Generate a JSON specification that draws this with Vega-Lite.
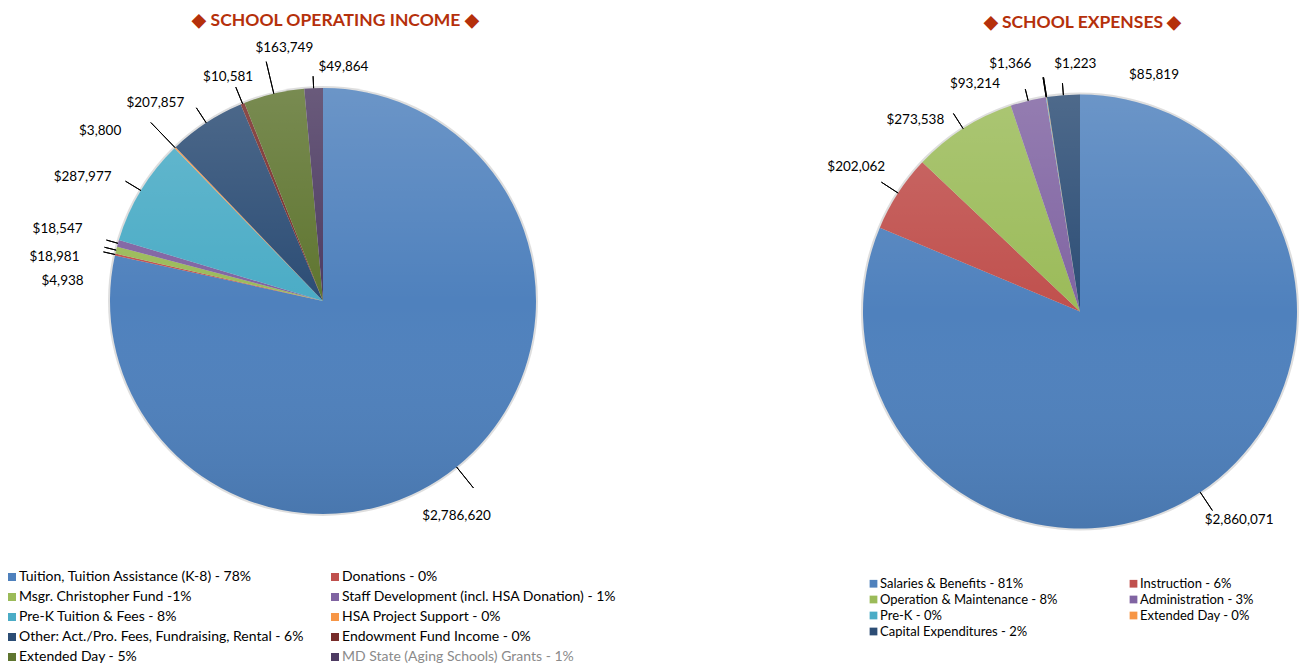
{
  "$schema": "https://vega.github.io/schema/vega-lite/v6.json",
  "padding": {"top": 11, "left": 0, "right": 0, "bottom": 0},
  "background": "white",
  "bounds": "flush",
  "spacing": 212,
  "config": {"view": {"stroke": null}, "font": "Lato"},
  "datasets": {
    "income": [
      {"ord": 1, "key": "tuition", "cat": "Tuition, Tuition Assistance (K-8) - 78%", "value": 2786620},
      {"ord": 2, "key": "donations", "cat": "Donations - 0%", "value": 4938},
      {"ord": 3, "key": "msgr", "cat": "Msgr. Christopher Fund -1%", "value": 18981},
      {"ord": 4, "key": "staff", "cat": "Staff Development (incl. HSA Donation) - 1%", "value": 18547},
      {"ord": 5, "key": "prek", "cat": "Pre-K Tuition & Fees - 8%", "value": 287977},
      {"ord": 6, "key": "hsa", "cat": "HSA Project Support - 0%", "value": 3800},
      {"ord": 7, "key": "other", "cat": "Other: Act./Pro. Fees, Fundraising, Rental - 6%", "value": 207857},
      {"ord": 8, "key": "endow", "cat": "Endowment Fund Income - 0%", "value": 10581},
      {"ord": 9, "key": "extday", "cat": "Extended Day - 5%", "value": 163749},
      {"ord": 10, "key": "md", "cat": "MD State (Aging Schools) Grants - 1%", "value": 49864}
    ],
    "expenses": [
      {"ord": 1, "key": "salaries", "cat": "Salaries & Benefits - 81%", "value": 2860071},
      {"ord": 2, "key": "instruction", "cat": "Instruction - 6%", "value": 202062},
      {"ord": 3, "key": "operation", "cat": "Operation & Maintenance - 8%", "value": 273538},
      {"ord": 4, "key": "admin", "cat": "Administration - 3%", "value": 93214},
      {"ord": 5, "key": "prek", "cat": "Pre-K - 0%", "value": 1366},
      {"ord": 6, "key": "extday", "cat": "Extended Day - 0%", "value": 1223},
      {"ord": 7, "key": "capital", "cat": "Capital Expenditures - 2%", "value": 85819}
    ]
  },
  "hconcat": [
    {
      "width": 646,
      "height": 532,
      "data": {"name": "income"},
      "title": {"text": "◆  SCHOOL OPERATING INCOME  ◆", "font": "Lato", "fontSize": 17.5, "fontWeight": "bold", "color": "#B5300B", "anchor": "middle", "frame": "group", "dx": 12.5, "offset": 6},
      "resolve": {"scale": {"theta": "independent"}},
      "layer": [
        {
          "transform": [{"aggregate": [{"op": "sum", "field": "value", "as": "value"}]}],
          "mark": {"type": "arc", "radius": 215, "fill": "#000000", "fillOpacity": 0.13},
          "encoding": {"theta": {"field": "value", "type": "quantitative"}}
        },
        {
          "mark": {"type": "arc", "radius": 213},
          "encoding": {
            "theta": {"field": "value", "type": "quantitative", "stack": true},
            "order": {"field": "ord", "type": "quantitative"},
            "color": {
              "field": "cat", "type": "nominal",
              "scale": {
                "domain": ["Tuition, Tuition Assistance (K-8) - 78%", "Donations - 0%", "Msgr. Christopher Fund -1%", "Staff Development (incl. HSA Donation) - 1%", "Pre-K Tuition & Fees - 8%", "HSA Project Support - 0%", "Other: Act./Pro. Fees, Fundraising, Rental - 6%", "Endowment Fund Income - 0%", "Extended Day - 5%", "MD State (Aging Schools) Grants - 1%"],
                "range": ["#4F81BD", "#C0504D", "#9BBB59", "#8064A2", "#4BACC6", "#F79646", "#2C4D75", "#772C2A", "#5F7530", "#4D3B62"]
              },
              "legend": {
                "title": null, "orient": "none", "direction": "horizontal", "legendX": 5, "legendY": 535, "columns": 2, "columnPadding": 24, "rowPadding": 6,
                "symbolType": "square", "symbolSize": 64, "symbolStrokeWidth": 0, "labelFont": "Lato", "labelFontSize": 14, "labelLimit": 400, "labelColor": "#000000", "labelOffset": 0,
                "encode": {"labels": {"update": {"fill": {"signal": "indexof(datum.label, 'MD State') === 0 ? '#8a8a8a' : '#000000'"}}}}
              }
            }
          }
        },
        {
          "transform": [{"aggregate": [{"op": "sum", "field": "value", "as": "value"}]}],
          "mark": {"type": "arc", "radius": 213, "fill": {"gradient": "linear", "x1": 0, "y1": 0, "x2": 0, "y2": 1, "stops": [{"offset": 0, "color": "rgba(255,255,255,0.16)"}, {"offset": 0.5, "color": "rgba(255,255,255,0)"}, {"offset": 1, "color": "rgba(0,0,0,0.08)"}]}},
          "encoding": {"theta": {"field": "value", "type": "quantitative"}}
        },
        {
          "transform": [
            {"fold": ["value", "value", "value"], "as": ["fk", "fv"]},
            {"window": [{"op": "row_number", "as": "copy"}], "groupby": ["cat"]},
            {"window": [{"op": "row_number", "as": "seq"}], "sort": [{"field": "ord", "order": "ascending"}, {"field": "copy", "order": "ascending"}]}
          ],
          "mark": {"type": "arc", "radius": 240, "radius2": 213, "padAngle": 3, "fill": "#000000", "fillOpacity": 0, "stroke": "#000000", "strokeWidth": 1},
          "encoding": {
            "theta": {"field": "fv", "type": "quantitative", "stack": true},
            "order": {"field": "seq", "type": "quantitative"},
            "detail": {"field": "seq", "type": "quantitative"},
            "strokeOpacity": {"condition": {"test": "datum.key === 'tuition' && datum.copy === 2", "value": 1}, "value": 0}
          }
        },
        {
          "encoding": {
            "theta": {"field": "value", "type": "quantitative", "stack": true},
            "order": {"field": "ord", "type": "quantitative"},
            "detail": {"field": "cat", "type": "nominal"}
          },
          "layer": [
            {"mark": {"type": "arc", "radius": 225, "radius2": 213, "padAngle": 3, "fill": "#000000", "fillOpacity": 0, "stroke": "#000000", "strokeWidth": 1},
             "encoding": {"strokeOpacity": {"condition": {"test": "indexof(['donations','msgr','staff','md'], datum.key) >= 0", "value": 1}, "value": 0}}},
            {"mark": {"type": "arc", "radius": 231, "radius2": 213, "padAngle": 3, "fill": "#000000", "fillOpacity": 0, "stroke": "#000000", "strokeWidth": 1},
             "encoding": {"strokeOpacity": {"condition": {"test": "indexof(['prek','other','endow'], datum.key) >= 0", "value": 1}, "value": 0}}},
            {"mark": {"type": "arc", "radius": 248, "radius2": 213, "padAngle": 3, "fill": "#000000", "fillOpacity": 0, "stroke": "#000000", "strokeWidth": 1},
             "encoding": {"strokeOpacity": {"condition": {"test": "datum.key === 'hsa'", "value": 1}, "value": 0}}},
            {"mark": {"type": "arc", "radius": 246, "radius2": 213, "padAngle": 3, "fill": "#000000", "fillOpacity": 0, "stroke": "#000000", "strokeWidth": 1},
             "encoding": {"strokeOpacity": {"condition": {"test": "datum.key === 'extday'", "value": 1}, "value": 0}}},
            {"mark": {"type": "text", "radius": 213, "dx": 0, "dy": 49, "font": "Lato", "fontSize": 13.5, "color": "#000000", "align": "center", "baseline": "middle"},
             "encoding": {"text": {"condition": {"test": "datum.key === 'tuition'", "field": "value", "type": "quantitative", "format": "$,.0f"}, "value": ""}}},
            {"mark": {"type": "text", "radius": 213, "dx": -52.6, "dy": 26.5, "font": "Lato", "fontSize": 13.5, "color": "#000000", "align": "center", "baseline": "middle"},
             "encoding": {"text": {"condition": {"test": "datum.key === 'donations'", "field": "value", "type": "quantitative", "format": "$,.0f"}, "value": ""}}},
            {"mark": {"type": "text", "radius": 213, "dx": -61.7, "dy": 6.8, "font": "Lato", "fontSize": 13.5, "color": "#000000", "align": "center", "baseline": "middle"},
             "encoding": {"text": {"condition": {"test": "datum.key === 'msgr'", "field": "value", "type": "quantitative", "format": "$,.0f"}, "value": ""}}},
            {"mark": {"type": "text", "radius": 213, "dx": -60.4, "dy": -14.4, "font": "Lato", "fontSize": 13.5, "color": "#000000", "align": "center", "baseline": "middle"},
             "encoding": {"text": {"condition": {"test": "datum.key === 'staff'", "field": "value", "type": "quantitative", "format": "$,.0f"}, "value": ""}}},
            {"mark": {"type": "text", "radius": 213, "dx": -58.3, "dy": -13.7, "font": "Lato", "fontSize": 13.5, "color": "#000000", "align": "center", "baseline": "middle"},
             "encoding": {"text": {"condition": {"test": "datum.key === 'prek'", "field": "value", "type": "quantitative", "format": "$,.0f"}, "value": ""}}},
            {"mark": {"type": "text", "radius": 213, "dx": -75, "dy": -16.8, "font": "Lato", "fontSize": 13.5, "color": "#000000", "align": "center", "baseline": "middle"},
             "encoding": {"text": {"condition": {"test": "datum.key === 'hsa'", "field": "value", "type": "quantitative", "format": "$,.0f"}, "value": ""}}},
            {"mark": {"type": "text", "radius": 213, "dx": -50.9, "dy": -19.8, "font": "Lato", "fontSize": 13.5, "color": "#000000", "align": "center", "baseline": "middle"},
             "encoding": {"text": {"condition": {"test": "datum.key === 'other'", "field": "value", "type": "quantitative", "format": "$,.0f"}, "value": ""}}},
            {"mark": {"type": "text", "radius": 213, "dx": -14.5, "dy": -26.8, "font": "Lato", "fontSize": 13.5, "color": "#000000", "align": "center", "baseline": "middle"},
             "encoding": {"text": {"condition": {"test": "datum.key === 'endow'", "field": "value", "type": "quantitative", "format": "$,.0f"}, "value": ""}}},
            {"mark": {"type": "text", "radius": 213, "dx": 10.5, "dy": -45.7, "font": "Lato", "fontSize": 13.5, "color": "#000000", "align": "center", "baseline": "middle"},
             "encoding": {"text": {"condition": {"test": "datum.key === 'extday'", "field": "value", "type": "quantitative", "format": "$,.0f"}, "value": ""}}},
            {"mark": {"type": "text", "radius": 213, "dx": 29.8, "dy": -21.2, "font": "Lato", "fontSize": 13.5, "color": "#000000", "align": "center", "baseline": "middle"},
             "encoding": {"text": {"condition": {"test": "datum.key === 'md'", "field": "value", "type": "quantitative", "format": "$,.0f"}, "value": ""}}}
          ]
        }
      ]
    },
    {
      "width": 444,
      "height": 553,
      "data": {"name": "expenses"},
      "title": {"text": "◆  SCHOOL EXPENSES  ◆", "font": "Lato", "fontSize": 17.5, "fontWeight": "bold", "color": "#B5300B", "anchor": "middle", "frame": "group", "dx": 2.5, "dy": 2, "offset": 6},
      "resolve": {"scale": {"theta": "independent"}},
      "layer": [
        {
          "transform": [{"aggregate": [{"op": "sum", "field": "value", "as": "value"}]}],
          "mark": {"type": "arc", "radius": 219, "fill": "#000000", "fillOpacity": 0.13},
          "encoding": {"theta": {"field": "value", "type": "quantitative"}}
        },
        {
          "mark": {"type": "arc", "radius": 217},
          "encoding": {
            "theta": {"field": "value", "type": "quantitative", "stack": true},
            "order": {"field": "ord", "type": "quantitative"},
            "color": {
              "field": "cat", "type": "nominal",
              "scale": {
                "domain": ["Salaries & Benefits - 81%", "Instruction - 6%", "Operation & Maintenance - 8%", "Administration - 3%", "Pre-K - 0%", "Extended Day - 0%", "Capital Expenditures - 2%"],
                "range": ["#4F81BD", "#C0504D", "#9BBB59", "#8064A2", "#4BACC6", "#F79646", "#2C4D75"]
              },
              "legend": {
                "title": null, "orient": "none", "direction": "horizontal", "legendX": 9, "legendY": 542, "columns": 2, "columnPadding": 69, "rowPadding": 2,
                "symbolType": "square", "symbolSize": 60, "symbolStrokeWidth": 0, "labelFont": "Lato", "labelFontSize": 13, "labelLimit": 400, "labelColor": "#000000", "labelOffset": 0
              }
            }
          }
        },
        {
          "transform": [{"aggregate": [{"op": "sum", "field": "value", "as": "value"}]}],
          "mark": {"type": "arc", "radius": 217, "fill": {"gradient": "linear", "x1": 0, "y1": 0, "x2": 0, "y2": 1, "stops": [{"offset": 0, "color": "rgba(255,255,255,0.16)"}, {"offset": 0.5, "color": "rgba(255,255,255,0)"}, {"offset": 1, "color": "rgba(0,0,0,0.08)"}]}},
          "encoding": {"theta": {"field": "value", "type": "quantitative"}}
        },
        {
          "transform": [
            {"fold": ["value", "value", "value"], "as": ["fk", "fv"]},
            {"window": [{"op": "row_number", "as": "copy"}], "groupby": ["cat"]},
            {"window": [{"op": "row_number", "as": "seq"}], "sort": [{"field": "ord", "order": "ascending"}, {"field": "copy", "order": "ascending"}]}
          ],
          "mark": {"type": "arc", "radius": 239, "radius2": 217, "padAngle": 3, "fill": "#000000", "fillOpacity": 0, "stroke": "#000000", "strokeWidth": 1},
          "encoding": {
            "theta": {"field": "fv", "type": "quantitative", "stack": true},
            "order": {"field": "seq", "type": "quantitative"},
            "detail": {"field": "seq", "type": "quantitative"},
            "strokeOpacity": {"condition": {"test": "datum.key === 'salaries' && datum.copy === 2", "value": 1}, "value": 0}
          }
        },
        {
          "encoding": {
            "theta": {"field": "value", "type": "quantitative", "stack": true},
            "order": {"field": "ord", "type": "quantitative"},
            "detail": {"field": "cat", "type": "nominal"}
          },
          "layer": [
            {"mark": {"type": "arc", "radius": 229, "radius2": 217, "padAngle": 3, "fill": "#000000", "fillOpacity": 0, "stroke": "#000000", "strokeWidth": 1},
             "encoding": {"strokeOpacity": {"condition": {"test": "indexof(['admin','capital'], datum.key) >= 0", "value": 1}, "value": 0}}},
            {"mark": {"type": "arc", "radius": 235, "radius2": 217, "padAngle": 3, "fill": "#000000", "fillOpacity": 0, "stroke": "#000000", "strokeWidth": 1},
             "encoding": {"strokeOpacity": {"condition": {"test": "datum.key === 'operation'", "value": 1}, "value": 0}}},
            {"mark": {"type": "arc", "radius": 237, "radius2": 217, "padAngle": 3, "fill": "#000000", "fillOpacity": 0, "stroke": "#000000", "strokeWidth": 1},
             "encoding": {"strokeOpacity": {"condition": {"test": "indexof(['instruction','prek','extday'], datum.key) >= 0", "value": 1}, "value": 0}}},
            {"mark": {"type": "text", "radius": 217, "dx": 38.9, "dy": 27.8, "font": "Lato", "fontSize": 13.5, "color": "#000000", "align": "center", "baseline": "middle"},
             "encoding": {"text": {"condition": {"test": "datum.key === 'salaries'", "field": "value", "type": "quantitative", "format": "$,.0f"}, "value": ""}}},
            {"mark": {"type": "text", "radius": 217, "dx": -41.9, "dy": -26.3, "font": "Lato", "fontSize": 13.5, "color": "#000000", "align": "center", "baseline": "middle"},
             "encoding": {"text": {"condition": {"test": "datum.key === 'instruction'", "field": "value", "type": "quantitative", "format": "$,.0f"}, "value": ""}}},
            {"mark": {"type": "text", "radius": 217, "dx": -47.8, "dy": -8.7, "font": "Lato", "fontSize": 13.5, "color": "#000000", "align": "center", "baseline": "middle"},
             "encoding": {"text": {"condition": {"test": "datum.key === 'operation'", "field": "value", "type": "quantitative", "format": "$,.0f"}, "value": ""}}},
            {"mark": {"type": "text", "radius": 217, "dx": -53.2, "dy": -16.5, "font": "Lato", "fontSize": 13.5, "color": "#000000", "align": "center", "baseline": "middle"},
             "encoding": {"text": {"condition": {"test": "datum.key === 'admin'", "field": "value", "type": "quantitative", "format": "$,.0f"}, "value": ""}}},
            {"mark": {"type": "text", "radius": 217, "dx": -35.8, "dy": -32.9, "font": "Lato", "fontSize": 13.5, "color": "#000000", "align": "center", "baseline": "middle"},
             "encoding": {"text": {"condition": {"test": "datum.key === 'prek'", "field": "value", "type": "quantitative", "format": "$,.0f"}, "value": ""}}},
            {"mark": {"type": "text", "radius": 217, "dx": 28.7, "dy": -32.8, "font": "Lato", "fontSize": 13.5, "color": "#000000", "align": "center", "baseline": "middle"},
             "encoding": {"text": {"condition": {"test": "datum.key === 'extday'", "field": "value", "type": "quantitative", "format": "$,.0f"}, "value": ""}}},
            {"mark": {"type": "text", "radius": 217, "dx": 90.6, "dy": -20.1, "font": "Lato", "fontSize": 13.5, "color": "#000000", "align": "center", "baseline": "middle"},
             "encoding": {"text": {"condition": {"test": "datum.key === 'capital'", "field": "value", "type": "quantitative", "format": "$,.0f"}, "value": ""}}}
          ]
        }
      ]
    }
  ],
  "resolve": {"scale": {"color": "independent", "theta": "independent"}, "legend": {"color": "independent"}}
}
